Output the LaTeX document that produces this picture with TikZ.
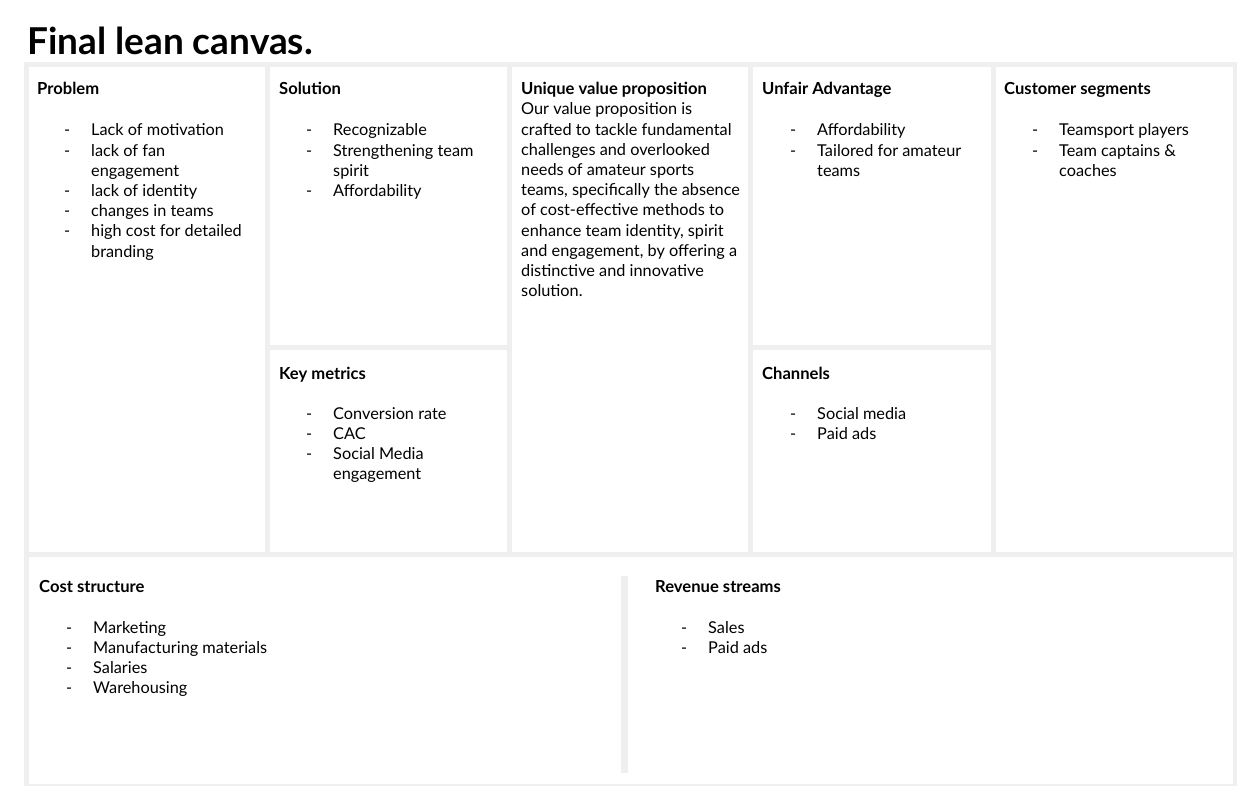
\documentclass[tikz,border=0pt]{standalone}
\usepackage{fontspec}
\setmainfont{Lato}
\usetikzlibrary{positioning}
\definecolor{lcgray}{HTML}{EFEFEF}
\tikzset{
  cellbox/.style ={fill=white},
  barbox/.style  ={fill=lcgray},
  titletxt/.style={anchor=base west, inner sep=0pt, font=\fontsize{37}{44}\selectfont\bfseries},
  headtxt/.style ={anchor=base west, inner sep=0pt, font=\fontsize{16.6}{20.2}\selectfont\bfseries},
  listtxt/.style ={anchor=base west, inner sep=0pt, font=\fontsize{16.3}{20.2}\selectfont},
}
\newlength{\dashgap}\setlength{\dashgap}{27pt}
\newcommand{\lcitem}[1]{\makebox[\dashgap][l]{-}#1}
\newcommand{\lcmore}[1]{\hspace*{\dashgap}#1}
\newcommand{\lclines}[1]{\begin{tabular}[t]{@{}l@{}}#1\end{tabular}}

\begin{document}
\begin{tikzpicture}[x=1pt,y=-1pt]
  \useasboundingbox (0,0) rectangle (1249,786);
  % frame and cells
  \fill[barbox] (24,62) rectangle (1237,786);
  \fill[cellbox] (29,67) rectangle (265,552);
  \fill[cellbox] (270,67) rectangle (507,345);
  \fill[cellbox] (270,350) rectangle (507,552);
  \fill[cellbox] (512,67) rectangle (748,552);
  \fill[cellbox] (753,67) rectangle (991,345);
  \fill[cellbox] (753,350) rectangle (991,552);
  \fill[cellbox] (996,67) rectangle (1233,552);
  \fill[cellbox] (29,557) rectangle (1233,784);
  \fill[barbox] (621,576) rectangle (628,773);

  \node[titletxt] (title) at (27,55) {Final lean canvas.};

  % top row
  \node[headtxt] (problemhead) at (37,95) {Problem};
  \node[listtxt] (problemlist) at (64,136) {\lclines{\lcitem{Lack of motivation}\\
    \lcitem{lack of fan}\\ \lcmore{engagement}\\
    \lcitem{lack of identity}\\
    \lcitem{changes in teams}\\
    \lcitem{high cost for detailed}\\ \lcmore{branding}}};

  \node[headtxt] (solutionhead) at (279,95) {Solution};
  \node[listtxt] (solutionlist) at (306,136) {\lclines{\lcitem{Recognizable}\\
    \lcitem{Strengthening team}\\ \lcmore{spirit}\\
    \lcitem{Affordability}}};

  \node[headtxt] (valuehead) at (521,95) {Unique value proposition};
  \node[listtxt] (valuetext) at (521,115) {\lclines{Our value proposition is\\
    crafted to tackle fundamental\\
    challenges and overlooked\\
    needs of amateur sports\\
    teams, specifically the absence\\
    of cost-effective methods to\\
    enhance team identity, spirit\\
    and engagement, by offering a\\
    distinctive and innovative\\
    solution.}};

  \node[headtxt] (advantagehead) at (762,95) {Unfair Advantage};
  \node[listtxt] (advantagelist) at (790,136) {\lclines{\lcitem{Affordability}\\
    \lcitem{Tailored for amateur}\\ \lcmore{teams}}};

  \node[headtxt] (segmenthead) at (1004,95) {Customer segments};
  \node[listtxt] (segmentlist) at (1032,136) {\lclines{\lcitem{Teamsport players}\\
    \lcitem{Team captains \&}\\ \lcmore{coaches}}};

  % middle row
  \node[headtxt] (metricshead) at (279,379) {Key metrics};
  \node[listtxt] (metricslist) at (306,419) {\lclines{\lcitem{Conversion rate}\\
    \lcitem{CAC}\\
    \lcitem{Social Media}\\ \lcmore{engagement}}};

  \node[headtxt] (channelshead) at (762,379) {Channels};
  \node[listtxt] (channelslist) at (790,419) {\lclines{\lcitem{Social media}\\
    \lcitem{Paid ads}}};

  % bottom row
  \node[headtxt] (costhead) at (39,592) {Cost structure};
  \node[listtxt] (costlist) at (66,633) {\lclines{\lcitem{Marketing}\\
    \lcitem{Manufacturing materials}\\
    \lcitem{Salaries}\\
    \lcitem{Warehousing}}};

  \node[headtxt] (revenuehead) at (655,592) {Revenue streams};
  \node[listtxt] (revenuelist) at (681,633) {\lclines{\lcitem{Sales}\\
    \lcitem{Paid ads}}};
\end{tikzpicture}
\end{document}
